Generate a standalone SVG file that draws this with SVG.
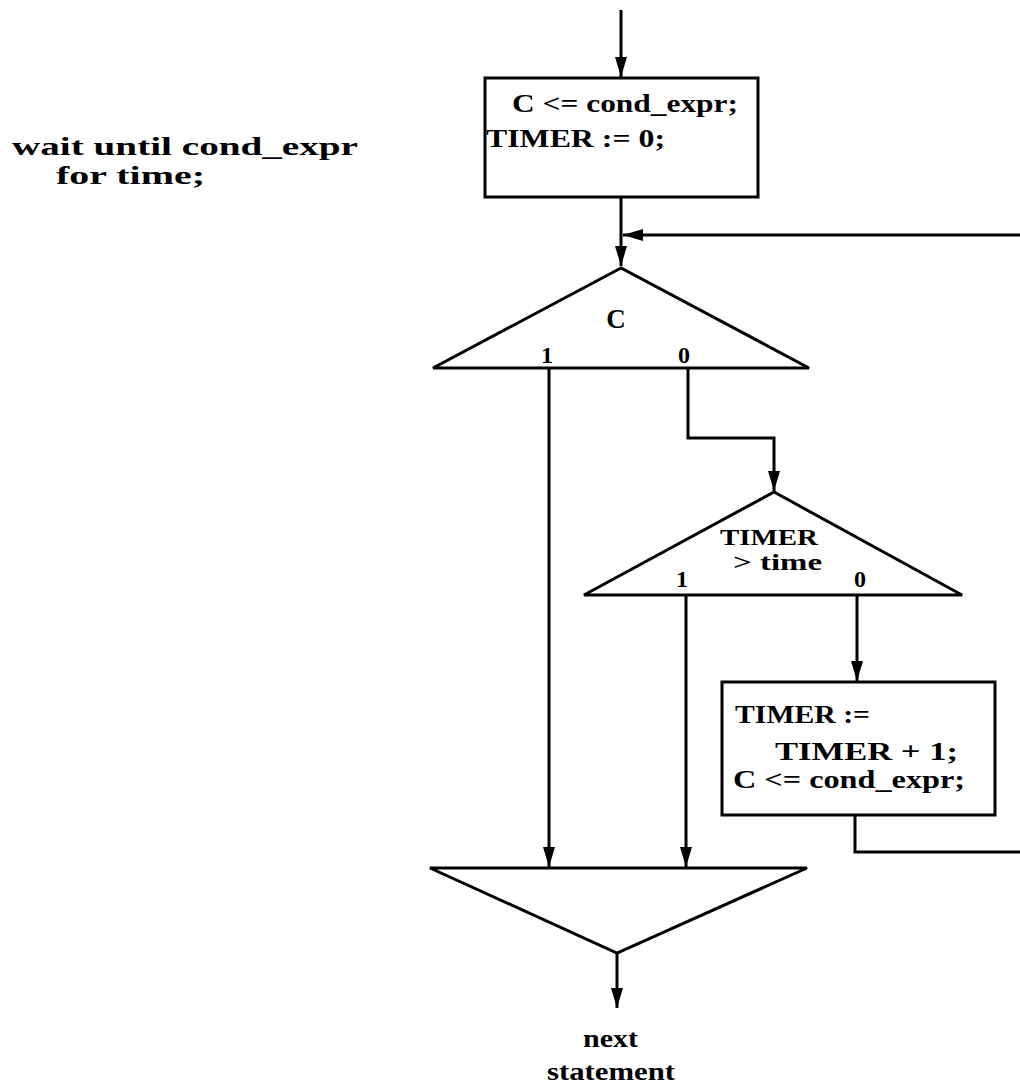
<svg xmlns="http://www.w3.org/2000/svg" width="1020" height="1086" viewBox="0 0 1020 1086">
<style>
.s{fill:none;stroke:#000;stroke-width:3;stroke-linejoin:miter}
.n{fill:#fff;stroke:#000;stroke-width:3}
text{font-family:"Liberation Serif","Times New Roman",serif;font-weight:bold;fill:#000}
.t{font-size:25px}
.l{font-size:24px}
.c{font-size:27px}
.w{font-size:26px}
.x{font-size:25px}
</style>
<defs>
<marker id="ah" viewBox="0 0 20 12" refX="20" refY="6" markerWidth="20" markerHeight="12" markerUnits="userSpaceOnUse" orient="auto">
<path d="M0,0 L20,6 L0,12 Z" fill="#000"/>
</marker>
</defs>
<rect width="1020" height="1086" fill="#fff"/>
<g id="label">
<text class="w" x="12" y="155" textLength="346" lengthAdjust="spacingAndGlyphs">wait until cond_expr</text>
<text class="w" x="56" y="184" textLength="149" lengthAdjust="spacingAndGlyphs">for time;</text>
</g>
<g id="connectors">
<path class="s" d="M621,10 L621,77" marker-end="url(#ah)"/>
<path class="s" d="M621,197 L621,266" marker-end="url(#ah)"/>
<path class="s" d="M1020,235 L623,235" marker-end="url(#ah)"/>
<path class="s" d="M549,368 L549,867" marker-end="url(#ah)"/>
<path class="s" d="M688,368 L688,438 L774,438 L774,491" marker-end="url(#ah)"/>
<path class="s" d="M686,595 L686,867" marker-end="url(#ah)"/>
<path class="s" d="M857,595 L857,681" marker-end="url(#ah)"/>
<path class="s" d="M855,815 L855,852 L1020,852"/>
<path class="s" d="M617,953 L617,1008" marker-end="url(#ah)"/>
</g>
<g id="init">
<rect class="n" x="485" y="78" width="273" height="119"/>
<text class="t" x="512" y="112" textLength="226" lengthAdjust="spacingAndGlyphs">C &lt;= cond_expr;</text>
<text class="t" x="486" y="147" textLength="179" lengthAdjust="spacingAndGlyphs">TIMER := 0;</text>
</g>
<g id="decisionC">
<path class="n" d="M621,268 L433,368 L809,368 Z"/>
<text class="c" x="616" y="328" text-anchor="middle">C</text>
<text class="l" x="547" y="363" text-anchor="middle">1</text>
<text class="l" x="684" y="363" text-anchor="middle">0</text>
</g>
<g id="decisionTimer">
<path class="n" d="M774,492 L584,595 L962,595 Z"/>
<text class="l" x="720" y="545" textLength="98" lengthAdjust="spacingAndGlyphs">TIMER</text>
<text class="l" x="733" y="570" textLength="89" lengthAdjust="spacingAndGlyphs">&gt; time</text>
<text class="l" x="682" y="587" text-anchor="middle">1</text>
<text class="l" x="860" y="587" text-anchor="middle">0</text>
</g>
<g id="increment">
<rect class="n" x="722" y="682" width="273" height="133"/>
<text class="t" x="735" y="723" textLength="135" lengthAdjust="spacingAndGlyphs">TIMER :=</text>
<text class="t" x="775" y="760" textLength="183" lengthAdjust="spacingAndGlyphs">TIMER + 1;</text>
<text class="t" x="733" y="788" textLength="232" lengthAdjust="spacingAndGlyphs">C &lt;= cond_expr;</text>
</g>
<g id="merge">
<path class="n" d="M430,868 L807,868 L617,953 Z"/>
</g>
<g id="next">
<text class="x" x="583" y="1047" textLength="55" lengthAdjust="spacingAndGlyphs">next</text>
<text class="x" x="547" y="1080" textLength="128" lengthAdjust="spacingAndGlyphs">statement</text>
</g>
</svg>
